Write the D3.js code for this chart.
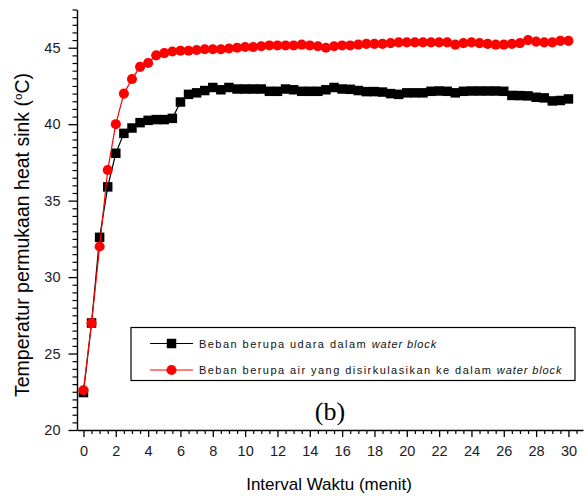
<!DOCTYPE html>
<html>
<head>
<meta charset="utf-8">
<script src="https://cdn.jsdelivr.net/npm/d3@7"></script>
<style>
	body { margin: 0; background: #fff; }
	svg { display: block; }
</style>
</head>
<body>
<div id="chart"></div>
<script>
// time in minutes, sampled every half minute
const waktu = d3.range(0, 30.01, 0.5)

// heat sink surface temperature, air inside the water block
const udara = [22.45, 27.0, 32.6, 35.9, 38.1, 39.4, 39.75, 40.1, 40.25, 40.3,
	40.3, 40.38, 41.45, 41.95, 42.05, 42.2, 42.4, 42.25, 42.4, 42.3,
	42.3, 42.3, 42.3, 42.15, 42.15, 42.3, 42.25, 42.15, 42.15, 42.15,
	42.25, 42.4, 42.3, 42.28, 42.2, 42.13, 42.13, 42.1, 42.0, 41.95,
	42.05, 42.05, 42.05, 42.15, 42.17, 42.15, 42.05, 42.15, 42.17, 42.17,
	42.17, 42.17, 42.15, 41.88, 41.87, 41.85, 41.76, 41.72, 41.52, 41.55,
	41.65]

// heat sink surface temperature, water circulated through the block
const air = [22.6, 27.0, 32.0, 37.0, 40.0, 42.0, 42.95, 43.75, 44.0, 44.5,
	44.65, 44.75, 44.8, 44.8, 44.85, 44.9, 44.9, 44.9, 44.95, 45.0,
	45.05, 45.05, 45.1, 45.15, 45.15, 45.15, 45.15, 45.2, 45.15, 45.1,
	45.0, 45.1, 45.15, 45.15, 45.2, 45.25, 45.25, 45.25, 45.3, 45.35,
	45.35, 45.35, 45.35, 45.35, 45.35, 45.35, 45.2, 45.3, 45.35, 45.3,
	45.25, 45.2, 45.2, 45.25, 45.3, 45.5, 45.4, 45.35, 45.35, 45.45,
	45.45]

const xTicks = [0, 2, 4, 6, 8, 10, 12, 14, 16, 18, 20, 22, 24, 26, 28, 30]
const yTicks = [20, 25, 30, 35, 40, 45]

const width = 584
const height = 496

const svg = d3.select('#chart')
	.append('svg')
	.attr('width', width)
	.attr('height', height)

const xScale = d3.scaleLinear()
	.domain([-0.4, 30.9])
	.range([77, 583])

const yScale = d3.scaleLinear()
	.domain([20, 47.5])
	.range([430, 9.5])

const labelColor = '#1b1b24'

// ---------- axes ----------
const xMinor = d3.range(0, 31.01, 0.5).filter(d => d % 2 !== 0)
const yMinor = d3.range(20, 47.51, 0.5).filter(d => d % 5 !== 0)

svg.append('g')
	.attr('transform', 'translate(0,430)')
	.call(d3.axisBottom(xScale).tickValues(xMinor).tickSize(4).tickFormat(''))
	.call(g => g.select('.domain').remove())
	.call(g => g.selectAll('.tick line').attr('stroke-width', 1.2))

const xAxis = svg.append('g')
	.attr('transform', 'translate(0,430)')
	.call(d3.axisBottom(xScale).tickValues(xTicks).tickSize(7).tickPadding(9).tickSizeOuter(0))
xAxis.select('.domain').attr('stroke-width', 1.4)
xAxis.selectAll('.tick line').attr('stroke-width', 1.3)
xAxis.selectAll('text')
	.attr('font-family', 'Liberation Sans, Arial, sans-serif')
	.attr('font-size', 14.5)
	.attr('fill', labelColor)

svg.append('g')
	.attr('transform', 'translate(77,0)')
	.call(d3.axisLeft(yScale).tickValues(yMinor).tickSize(4.5).tickFormat(''))
	.call(g => g.select('.domain').remove())
	.call(g => g.selectAll('.tick line').attr('stroke-width', 1.2))

const yAxis = svg.append('g')
	.attr('transform', 'translate(77,0)')
	.call(d3.axisLeft(yScale).tickValues(yTicks).tickSize(8.5).tickPadding(8).tickSizeOuter(0))
yAxis.select('.domain').attr('stroke-width', 1.4)
yAxis.selectAll('.tick line').attr('stroke-width', 1.3)
yAxis.selectAll('text')
	.attr('font-family', 'Liberation Sans, Arial, sans-serif')
	.attr('font-size', 14.5)
	.attr('fill', labelColor)

// ---------- axis titles ----------
const yTitle = svg.append('text')
	.attr('transform', 'translate(29,235) rotate(-90)')
	.attr('text-anchor', 'middle')
	.attr('font-family', 'Liberation Sans, Arial, sans-serif')
	.attr('font-size', 19.5)
	.attr('fill', '#000')
yTitle.append('tspan').text('Temperatur permukaan heat sink (')
yTitle.append('tspan').attr('font-size', 11.5).attr('dy', -7.5).text('o')
yTitle.append('tspan').attr('dy', 7.5).text('C)')

svg.append('text')
	.attr('x', 329)
	.attr('y', 490)
	.attr('text-anchor', 'middle')
	.attr('font-family', 'Liberation Sans, Arial, sans-serif')
	.attr('font-size', 17)
	.attr('fill', '#000')
	.text('Interval Waktu (menit)')

// ---------- series ----------
const series = [
	{ name: 'udara', values: udara, color: '#000000', shape: d3.symbolSquare },
	{ name: 'air', values: air, color: '#ff0000', shape: d3.symbolCircle }
]

const markerSize = s => s.shape === d3.symbolSquare ? 90 : 80

const line = d3.line()
	.x(d => xScale(d[0]))
	.y(d => yScale(d[1]))

for (let i = 0; i < series.length; i++) {
	const s = series[i]
	const pts = waktu.map((t, j) => [t, s.values[j]])

	svg.append('path')
		.datum(pts)
		.attr('fill', 'none')
		.attr('stroke', s.color)
		.attr('stroke-width', 1.2)
		.attr('d', line)

	svg.append('g')
		.selectAll('path')
		.data(pts)
		.join('path')
		.attr('transform', d => 'translate(' + xScale(d[0]) + ',' + yScale(d[1]) + ')')
		.attr('d', d3.symbol().type(s.shape).size(markerSize(s)))
		.attr('fill', s.color)
}

// ---------- legend ----------
const legend = svg.append('g')

legend.append('rect')
	.attr('x', 131)
	.attr('y', 327.5)
	.attr('width', 444)
	.attr('height', 53)
	.attr('fill', '#fff')
	.attr('stroke', '#000')
	.attr('stroke-width', 1.2)

const legendRows = [
	{ label: 'Beban berupa udara dalam ', italic: 'water block', s: series[0] },
	{ label: 'Beban berupa air yang disirkulasikan ke dalam ', italic: 'water block', s: series[1] }
]

legendRows.forEach((r, i) => {
	const cy = 343.5 + i * 26.5
	legend.append('line')
		.attr('x1', 150)
		.attr('x2', 193)
		.attr('y1', cy)
		.attr('y2', cy)
		.attr('stroke', r.s.color)
		.attr('stroke-width', 1.2)
	legend.append('path')
		.attr('transform', 'translate(171.5,' + cy + ')')
		.attr('d', d3.symbol().type(r.s.shape).size(markerSize(r.s)))
		.attr('fill', r.s.color)
	const t = legend.append('text')
		.attr('x', 199)
		.attr('y', cy + 4)
		.attr('font-family', 'Liberation Sans, Arial, sans-serif')
		.attr('font-size', 11)
		.attr('letter-spacing', 1.45)
		.attr('fill', '#111')
	t.append('tspan').text(r.label)
	t.append('tspan').attr('font-style', 'italic').attr('letter-spacing', 0.9).text(r.italic)
})

// panel label
svg.append('text')
	.attr('x', 330)
	.attr('y', 420)
	.attr('text-anchor', 'middle')
	.attr('font-family', 'Liberation Serif, Times New Roman, serif')
	.attr('font-size', 26)
	.attr('fill', '#000')
	.text('(b)')
</script>
</body>
</html>
